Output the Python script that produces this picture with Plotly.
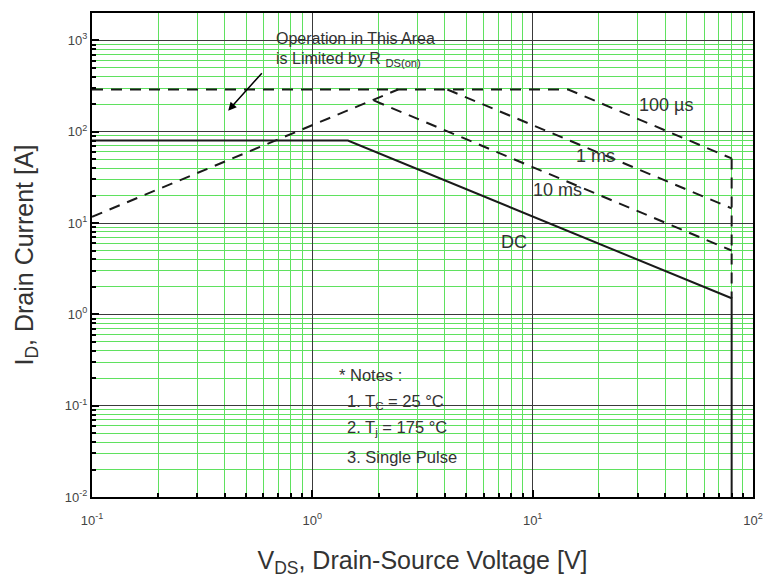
import numpy as np
import plotly.graph_objects as go

# ---- data ----
dc_v = [0.1, 1.45, 80, 80]
dc_i = [80, 80, 1.5, 0.01]

rds_v = [0.1, 2.45]
rds_i = [11.7, 290]

us100_v = [0.1, 14.5, 80]
us100_i = [290, 290, 51]

bv_v = [80, 80]
bv_i = [51, 1.5]

ms1_v = [4.1, 80]
ms1_i = [290, 14.5]

ms10_v = [1.9, 80]
ms10_i = [220, 5.0]

x_ticks = [0.1, 1, 10, 100]
x_ticktext = ["10<sup>-1</sup>", "10<sup>0</sup>", "10<sup>1</sup>", "10<sup>2</sup>"]
y_ticks = [0.01, 0.1, 1, 10, 100, 1000]
y_ticktext = ["10<sup>-2</sup>", "10<sup>-1</sup>", "10<sup>0</sup>",
              "10<sup>1</sup>", "10<sup>2</sup>", "10<sup>3</sup>"]

curve_labels = ["100 µs", "1 ms", "10 ms", "DC"]
label_v = [40.3, 19.3, 13.0, 8.2]
label_i = [197, 54.6, 23, 6.2]

notes = ["* Notes :", "1. T<sub>C</sub> = 25 °C", "2. T<sub>j</sub> = 175 °C", "3. Single Pulse"]

# ---- styles ----
FONT = "Liberation Sans, Arial, sans-serif"
LINE_C = "#1a1a1a"
DASH = "11px,8px"
GREEN = "rgb(95,225,95)"

fig = go.Figure()
fig.add_trace(go.Scatter(x=rds_v, y=rds_i, mode="lines",
                         line=dict(color=LINE_C, width=2, dash=DASH), name="RDS(on) limit"))
fig.add_trace(go.Scatter(x=us100_v, y=us100_i, mode="lines",
                         line=dict(color=LINE_C, width=2, dash=DASH), name="100 µs"))
fig.add_trace(go.Scatter(x=ms1_v, y=ms1_i, mode="lines",
                         line=dict(color=LINE_C, width=2, dash=DASH), name="1 ms"))
fig.add_trace(go.Scatter(x=ms10_v, y=ms10_i, mode="lines",
                         line=dict(color=LINE_C, width=2, dash=DASH), name="10 ms"))
fig.add_trace(go.Scatter(x=bv_v, y=bv_i, mode="lines",
                         line=dict(color=LINE_C, width=2, dash=DASH), name="BVDSS"))
fig.add_trace(go.Scatter(x=dc_v, y=dc_i, mode="lines",
                         line=dict(color=LINE_C, width=2), name="DC"))

axis_common = dict(
    type="log",
    automargin=False,
    showline=True, linecolor="black", linewidth=2, mirror=True,
    ticks="inside", ticklen=7, tickwidth=2, tickcolor="black",
    showgrid=True, gridcolor="#3a3a3a", gridwidth=1,
    tickfont=dict(family=FONT, size=13, color="#444"),
    zeroline=False,
    minor=dict(dtick="D1", ticks="inside", ticklen=4, tickwidth=1.5,
               tickcolor="black", showgrid=True, gridcolor=GREEN, gridwidth=1),
)

fig.update_xaxes(**axis_common, range=[-1, 2], tickvals=x_ticks, ticktext=x_ticktext,
                 ticklabelstandoff=10,
                 title=dict(text="V<sub>DS</sub>, Drain-Source Voltage [V]",
                            font=dict(family=FONT, size=25, color="#333"), standoff=25))
fig.update_yaxes(**axis_common, range=[-2, 3.3], tickvals=y_ticks, ticktext=y_ticktext,
                 title=dict(text="I<sub>D</sub>, Drain Current [A]",
                            font=dict(family=FONT, size=25, color="#333"), standoff=24))

# white boxes behind text (above grid, below traces)
fig.add_shape(type="rect", xref="paper", yref="paper", x0=0.2587, x1=0.5265, y0=0.872, y1=1.0,
              fillcolor="white", line=dict(width=0), layer="between")
fig.add_shape(type="rect", xref="paper", yref="paper", x0=0.357, x1=0.552, y0=0.0455, y1=0.2975,
              fillcolor="white", line=dict(width=0), layer="between")

# curve labels
for t, v, i in zip(curve_labels, label_v, label_i):
    fig.add_annotation(x=np.log10(v), y=np.log10(i), text=t, showarrow=False,
                       font=dict(family=FONT, size=18, color="#333"))

# Rds(on) note
fig.add_annotation(xref="paper", yref="paper", x=0.275, y=0.948, xanchor="left", yanchor="middle",
                   text="Operation in This Area", showarrow=False,
                   font=dict(family=FONT, size=16, color="#333"))
fig.add_annotation(xref="paper", yref="paper", x=0.275, y=0.903, xanchor="left", yanchor="middle",
                   text="is Limited by R <sub>DS(on)</sub>", showarrow=False,
                   font=dict(family=FONT, size=16, color="#333"))
fig.add_annotation(x=np.log10(0.415), y=np.log10(170), ax=35, ay=-39, text="",
                   showarrow=True, arrowhead=2, arrowsize=1.1, arrowwidth=1.5, arrowcolor="black")

# notes
note_x = [0.3707, 0.383, 0.383, 0.383]
note_y = [0.252, 0.196, 0.1426, 0.0826]
for t, nx, ny in zip(notes, note_x, note_y):
    fig.add_annotation(xref="paper", yref="paper", x=nx, y=ny, xanchor="left", yanchor="middle",
                       text=t, showarrow=False, font=dict(family=FONT, size=16.5, color="#333"))

# the page body adds an 8px offset, so the figure is 8px smaller than the window
fig.update_layout(
    width=763, height=576,
    margin=dict(l=84, r=18, t=5, b=87),
    paper_bgcolor="white", plot_bgcolor="white",
    showlegend=False,
    font=dict(family=FONT),
)

fig.write_html("out.html")
